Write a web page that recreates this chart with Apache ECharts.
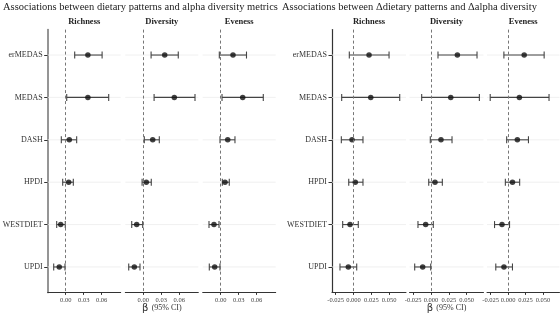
<!DOCTYPE html>
<html><head><meta charset="utf-8">
<script src="https://cdn.jsdelivr.net/npm/echarts@6/dist/echarts.min.js"></script>
<style>html,body{margin:0;padding:0;background:#fff}#c{width:560px;height:315px}</style>
</head><body><div id="c"></div>
<script>
var categories = ['erMEDAS','MEDAS','DASH','HPDI','WESTDIET','UPDI'];
var facetNames = ['Richness','Diversity','Eveness'];

// Left chart: dietary patterns vs alpha diversity
var richEst  = [0.037, 0.037, 0.006, 0.005, -0.0083, -0.0107];
var richLow  = [0.015, 0.0017, -0.0073, -0.005, -0.015, -0.020];
var richHigh = [0.0607, 0.0717, 0.0183, 0.0127, -0.0007, -0.0012];
var divEst   = [0.0357, 0.0517, 0.0157, 0.005, -0.011, -0.015];
var divLow   = [0.013, 0.018, 0.0017, -0.002, -0.0193, -0.0243];
var divHigh  = [0.0583, 0.0862, 0.0267, 0.0133, -0.001, -0.0055];
var evenEst  = [0.0205, 0.0367, 0.0117, 0.0072, -0.0112, -0.010];
var evenLow  = [-0.0023, 0.0022, -0.0012, 0.0027, -0.0195, -0.019];
var evenHigh = [0.043, 0.071, 0.0238, 0.0143, -0.0028, -0.0012];

// Right chart: delta dietary patterns vs delta alpha diversity
var dRichEst  = [0.0218, 0.0242, -0.0021, 0.0025, -0.0049, -0.0073];
var dRichLow  = [-0.0059, -0.0166, -0.0171, -0.0067, -0.0152, -0.019];
var dRichHigh = [0.0499, 0.0649, 0.0133, 0.0133, 0.0067, 0.0045];
var dDivEst   = [0.037, 0.0277, 0.014, 0.0056, -0.0075, -0.0117];
var dDivLow   = [0.0098, -0.0131, -0.001, -0.0032, -0.0183, -0.0229];
var dDivHigh  = [0.0646, 0.0679, 0.0295, 0.0159, 0.0032, -0.0004];
var dEvenEst  = [0.0231, 0.0162, 0.0133, 0.0063, -0.0087, -0.0059];
var dEvenLow  = [-0.006, -0.0256, -0.002, -0.0039, -0.0194, -0.0176];
var dEvenHigh = [0.0517, 0.0587, 0.0292, 0.0166, 0.0021, 0.0063];

var leftTickValues = [0, 0.03, 0.06];
var leftTickLabels = ['0.00', '0.03', '0.06'];
var rightTickValues = [-0.025, 0, 0.025, 0.05];
var rightTickLabels = ['-0.025', '0.000', '0.025', '0.050'];

var leftTitle = 'Associations between dietary patterns and alpha diversity metrics';
var rightTitle = 'Associations between \u0394dietary patterns and \u0394alpha diversity';

var FONT = 'Liberation Serif';
var panels = [
  {left: 47.7, width: 73, min: -0.030, max: 0.0917, est: richEst, lo: richLow, hi: richHigh, tv: leftTickValues, tl: leftTickLabels, first: true, axisColor: '#8a8a8a', axisW: 1.8},
  {left: 125.3, width: 73, min: -0.030, max: 0.0917, est: divEst, lo: divLow, hi: divHigh, tv: leftTickValues, tl: leftTickLabels, mid: true},
  {left: 202.7, width: 73, min: -0.030, max: 0.0917, est: evenEst, lo: evenLow, hi: evenHigh, tv: leftTickValues, tl: leftTickLabels},
  {left: 332, width: 74, min: -0.0302, max: 0.0737, est: dRichEst, lo: dRichLow, hi: dRichHigh, tv: rightTickValues, tl: rightTickLabels, first: true, axisColor: '#333', axisW: 1.2},
  {left: 409.5, width: 74, min: -0.0302, max: 0.0737, est: dDivEst, lo: dDivLow, hi: dDivHigh, tv: rightTickValues, tl: rightTickLabels, mid: true},
  {left: 487, width: 72.5, min: -0.0302, max: 0.0737, est: dEvenEst, lo: dEvenLow, hi: dEvenHigh, tv: rightTickValues, tl: rightTickLabels}
];

var TOP = 29.6, HEIGHT = 262.8;
var grids = [], xAxes = [], yAxes = [], series = [];
var titles = [
  {text: leftTitle, left: 3, top: 2, padding: 0, textStyle: {fontFamily: FONT, fontSize: 10.5, fontWeight: 'normal', color: '#222'}},
  {text: rightTitle, left: 282, top: 2, padding: 0, textStyle: {fontFamily: FONT, fontSize: 10.5, fontWeight: 'normal', color: '#222'}}
];

panels.forEach(function (p, i) {
  grids.push({left: p.left, top: TOP, width: p.width, height: HEIGHT, containLabel: false, outerBoundsMode: 'none'});
  titles.push({text: facetNames[i % 3], left: p.left + p.width / 2, top: 17, padding: 0, textAlign: 'center',
    textStyle: {fontFamily: FONT, fontSize: 8.5, fontWeight: 'bold', color: '#222'}});
  var tl = p.tl, tv = p.tv;
  xAxes.push({
    type: 'value', gridIndex: i, min: p.min, max: p.max,
    axisLine: {show: true, onZero: false, lineStyle: {color: '#333', width: 1}},
    axisTick: {show: true, length: 2.5, customValues: tv, lineStyle: {color: '#333'}},
    axisLabel: {customValues: tv, margin: 4, fontFamily: FONT, fontSize: 6.5, color: '#444',
      formatter: function (v) { for (var k = 0; k < tv.length; k++) { if (Math.abs(tv[k] - v) < 1e-9) return tl[k]; } return ''; }},
    splitLine: {show: false},
    name: p.mid ? '{b|\u03b2} {t|(95% CI)}' : '',
    nameLocation: 'middle', nameGap: 10, nameMoveOverlap: false,
    nameTextStyle: {rich: {b: {fontFamily: 'DejaVu Sans', fontSize: 10, color: '#333'}, t: {fontFamily: FONT, fontSize: 8, color: '#333'}}}
  });
  yAxes.push({
    type: 'value', gridIndex: i, min: 0.4, max: 6.6, inverse: true,
    show: true,
    axisLine: {show: !!p.first, onZero: false, lineStyle: {color: p.axisColor || '#333', width: p.axisW || 1}},
    axisTick: {show: !!p.first, length: 3.5, customValues: [1, 2, 3, 4, 5, 6], lineStyle: {color: '#333'}},
    axisLabel: {show: !!p.first, customValues: [1, 2, 3, 4, 5, 6], margin: 5, fontFamily: FONT, fontSize: 8, color: '#333',
      formatter: function (v) { return categories[Math.round(v) - 1] || ''; }},
    splitLine: {show: false}
  });
  var gridData = categories.map(function (c, k) { return [0, k + 1]; });
  series.push({
    type: 'custom', xAxisIndex: i, yAxisIndex: i, z: 1, silent: true,
    data: gridData, encode: {x: 0, y: 1},
    renderItem: function (params, api) {
      var pt = api.coord([0, api.value(1)]);
      var cs = params.coordSys;
      return {type: 'line', shape: {x1: cs.x, y1: pt[1], x2: cs.x + cs.width, y2: pt[1]}, style: {stroke: '#ececec', lineWidth: 0.8}};
    }
  });
  var barData = categories.map(function (c, k) { return [k + 1, p.lo[k], p.hi[k]]; });
  series.push({
    type: 'custom', xAxisIndex: i, yAxisIndex: i, z: 3, silent: true,
    data: barData, encode: {x: [1, 2], y: 0},
    renderItem: function (params, api) {
      var y = api.value(0);
      var a = api.coord([api.value(1), y]);
      var b = api.coord([api.value(2), y]);
      var h = 3.5, st = {stroke: '#444', lineWidth: 1.1};
      return {type: 'group', children: [
        {type: 'line', shape: {x1: a[0], y1: a[1], x2: b[0], y2: b[1]}, style: st},
        {type: 'line', shape: {x1: a[0], y1: a[1] - h, x2: a[0], y2: a[1] + h}, style: st},
        {type: 'line', shape: {x1: b[0], y1: b[1] - h, x2: b[0], y2: b[1] + h}, style: st}
      ]};
    }
  });
  var ptData = categories.map(function (c, k) { return [p.est[k], k + 1]; });
  series.push({
    type: 'scatter', xAxisIndex: i, yAxisIndex: i, z: 4, silent: true,
    data: ptData, symbol: 'circle', symbolSize: 5.5,
    itemStyle: {color: '#111'},
    markLine: {silent: true, symbol: ['none', 'none'], label: {show: false},
      lineStyle: {type: [3, 2.5], color: '#777', width: 1}, data: [{xAxis: 0}], animation: false}
  });
});

var chart = echarts.init(document.getElementById('c'), null, {renderer: 'canvas'});
chart.setOption({
  animation: false,
  backgroundColor: '#fff',
  title: titles,
  grid: grids,
  xAxis: xAxes,
  yAxis: yAxes,
  series: series
});
</script></body></html>
